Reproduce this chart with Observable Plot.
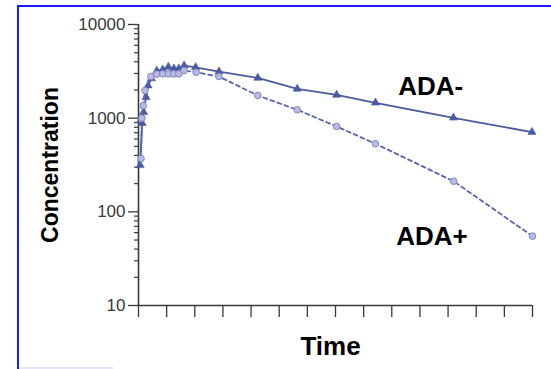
<!DOCTYPE html>
<html>
<head>
<meta charset="utf-8">
<script src="https://cdn.jsdelivr.net/npm/d3@7"></script>
<script src="https://cdn.jsdelivr.net/npm/@observablehq/plot@0.6"></script>
<style>
  html, body { margin: 0; padding: 0; background: #fff; }
  #wrap { position: relative; width: 551px; height: 369px; overflow: hidden; }
  #frame { position: absolute; left: 17px; top: 5px; width: 600px; height: 400px;
           border-left: 2px solid #1a1aff; border-top: 2px solid #1a1aff; box-sizing: border-box; }
  #shade { position: absolute; left: 19px; top: 367px; width: 94px; height: 2px; background: #e6e6fb; }
  #chart { position: absolute; left: 0; top: 0; }
</style>
</head>
<body>
<div id="wrap"><div id="frame"></div><div id="shade"></div><div id="chart"></div></div>
<script>
// ADA- (solid line, triangles)
const adaNegTime = [0.06,0.13,0.18,0.27,0.34,0.46,0.65,0.86,1.06,1.26,1.43,1.62,2.03,2.86,4.24,5.64,7.04,8.42,11.19,13.98];
const adaNegConc = [314,885,1160,1675,2230,2650,3200,3300,3520,3380,3380,3640,3490,3140,2690,2055,1775,1460,1010,710];
// ADA+ (dashed line, circles)
const adaPosTime = [0.09,0.12,0.17,0.23,0.44,0.65,0.86,1.06,1.25,1.43,1.62,2.05,2.86,4.24,5.64,7.04,8.42,11.2,14.0];
const adaPosConc = [370,1000,1360,1975,2780,2950,2970,2970,2970,2970,3220,3090,2780,1745,1228,816,533,212,55];
// axes
const yMajorTicks = [10, 100, 1000, 10000];
const yMinorTicks = [20,30,40,50,60,70,80,90,200,300,400,500,600,700,800,900,2000,3000,4000,5000,6000,7000,8000,9000];
const xTicks = [0,1,2,3,4,5,6,7,8,9,10,11,12,13,14];
// series labels (data coordinates)
const seriesLabels = ["ADA-", "ADA+"];
const labelTime = [9.23, 9.16];
const labelConc = [1775, 44];

const neg = adaNegTime.map((t, i) => ({t, c: adaNegConc[i]}));
const pos = adaPosTime.map((t, i) => ({t, c: adaPosConc[i]}));
const labels = seriesLabels.map((s, i) => ({s, t: labelTime[i], c: labelConc[i]}));

const lineCol = "#4a5aa0";
const axisCol = "#3a3a3a";

const chart = Plot.plot({
  width: 551,
  height: 369,
  marginLeft: 138,
  marginRight: 19,
  marginTop: 24,
  marginBottom: 64,
  style: {fontFamily: "'Liberation Sans', Arial, sans-serif", background: "transparent"},
  x: {domain: [0, 14]},
  y: {type: "log", domain: [10, 10000]},
  marks: [
    Plot.axisY({ticks: yMinorTicks, tickSize: 4, tickFormat: () => "", stroke: axisCol, strokeWidth: 1.2, label: null}),
    Plot.axisY({ticks: yMajorTicks, tickSize: 10, tickPadding: 3, tickFormat: d => String(d),
                fontSize: 17, fill: "#3a3a3a", stroke: axisCol, strokeWidth: 1.3, label: null}),
    Plot.axisX({ticks: xTicks, tickSize: 12, tickFormat: () => "", stroke: axisCol, strokeWidth: 1.3, label: null}),
    Plot.ruleX([0], {stroke: axisCol, strokeWidth: 1.6}),
    Plot.ruleY([10], {stroke: axisCol, strokeWidth: 1.6}),
    Plot.line(neg, {x: "t", y: "c", stroke: lineCol, strokeWidth: 1.8}),
    Plot.dot(neg, {x: "t", y: "c", symbol: "triangle", r: 3, fill: lineCol, stroke: lineCol, strokeWidth: 0.6}),
    Plot.line(pos, {x: "t", y: "c", stroke: "#5566aa", strokeWidth: 1.8, strokeDasharray: "4,3.5"}),
    Plot.dot(pos, {x: "t", y: "c", r: 3.3, fill: "#b7bbe2", stroke: "#7f88c2", strokeWidth: 1}),
    Plot.text(labels, {x: "t", y: "c", text: "s", textAnchor: "start", lineAnchor: "bottom",
                       fontSize: 26, fontWeight: "bold", fill: "#000"}),
    Plot.text(["Time"], {frameAnchor: "bottom", lineAnchor: "bottom", textAnchor: "middle", dy: 49, dx: -5,
                         fontSize: 26, fontWeight: "bold", fill: "#000"}),
    Plot.text(["Concentration"], {frameAnchor: "left", lineAnchor: "bottom", textAnchor: "middle", rotate: -90, dx: -81,
                         fontSize: 23, fontWeight: "bold", fill: "#000"})
  ]
});
document.getElementById("chart").appendChild(chart);
</script>
</body>
</html>
